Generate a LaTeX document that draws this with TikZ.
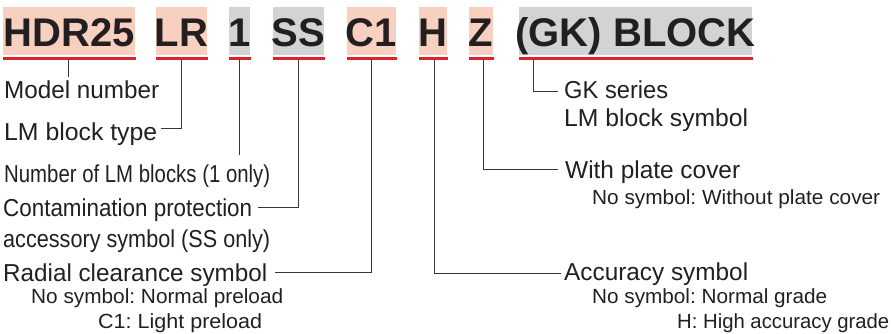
\documentclass[tikz,border=0pt]{standalone}
\usepackage{fontspec}
\setmainfont{Liberation Sans}
\usepackage{graphicx}
\usetikzlibrary{calc}
\definecolor{pinkbg}{RGB}{248,208,192}
\definecolor{graybg}{RGB}{209,211,212}
\definecolor{redbar}{RGB}{220,35,45}
\definecolor{ink}{RGB}{35,31,32}
\definecolor{lineclr}{RGB}{55,55,55}
\newcommand{\fw}[2]{\resizebox{#1}{\height}{#2}}
\frenchspacing
\begin{document}
\begin{tikzpicture}[x=1pt,y=-1pt,
  code/.style={inner sep=0pt, text height=40pt, text depth=8pt,
    font=\fontsize{40}{40}\selectfont\bfseries, text=ink, anchor=base},
  pinkcode/.style={code, fill=pinkbg},
  graycode/.style={code, fill=graybg},
  bar/.style={draw=redbar, line width=3.5pt},
  conn/.style={draw=lineclr, line width=0.9pt},
  mainlbl/.style={inner sep=0pt, anchor=base west, text=ink,
    font=\fontsize{24.5}{28}\selectfont\frenchspacing},
  sublbl/.style={inner sep=0pt, anchor=base west, text=ink,
    font=\fontsize{20.5}{25}\selectfont\frenchspacing},
]
\useasboundingbox (0,0) rectangle (891,334);

% code boxes
\node[pinkcode] (b1) at (69,47)    {\makebox[132pt]{HDR25}};
\node[pinkcode] (b2) at (181.5,47) {\makebox[51pt]{LR}};
\node[graycode] (b3) at (239.5,47) {\makebox[21pt]{1}};
\node[graycode] (b4) at (298.5,47) {\makebox[51pt]{SS}};
\node[pinkcode] (b5) at (371.5,47) {\makebox[49pt]{C1}};
\node[pinkcode] (b6) at (433,47)   {\makebox[28pt]{H}};
\node[pinkcode] (b7) at (481,47)   {\makebox[24pt]{Z}};
\node[graycode] (b8) at (635.5,47) {\makebox[233pt]{(GK) BLOCK}};

% red underlines
\foreach \b in {b1,b2,b3,b4,b5,b6,b7,b8}{
  \draw[bar] ([yshift=-3.25pt]\b.south west) -- ([xshift=1pt,yshift=-3.25pt]\b.south east);
}

% labels left
\node[mainlbl] (l1) at (4,99)     {\fw{155pt}{Model number}};
\node[mainlbl] (l2) at (4,140)    {\fw{153pt}{LM block type}};
\node[mainlbl] (l3) at (4,182)    {\fw{266pt}{Number of LM blocks (1 only)}};
\node[mainlbl] (l4) at (3,216)    {\fw{249pt}{Contamination protection}};
\node[mainlbl] (l4b) at (3,247)   {\fw{267pt}{accessory symbol (SS only)}};
\node[mainlbl] (l5) at (3,281)    {\fw{264pt}{Radial clearance symbol}};
\node[sublbl] (l5a) at (31,303)   {\fw{252pt}{No symbol: Normal preload}};
\node[sublbl] (l5b) at (98,328)   {\fw{164pt}{C1: Light preload}};

% labels right
\node[mainlbl] (l8) at (564,99)    {\fw{104pt}{GK series}};
\node[mainlbl] (l8b) at (564,126)  {\fw{184pt}{LM block symbol}};
\node[mainlbl] (l7) at (565,178)   {\fw{175pt}{With plate cover}};
\node[sublbl] (l7a) at (592,204.5) {\fw{288pt}{No symbol: Without plate cover}};
\node[mainlbl] (l6) at (564,280.5) {\fw{184pt}{Accuracy symbol}};
\node[sublbl] (l6a) at (592,303)   {\fw{235pt}{No symbol: Normal grade}};
\node[sublbl] (l6b) at (677,328)   {\fw{212pt}{H: High accuracy grade}};

% connectors
\coordinate (e1) at ($(b1.south)+(-1,22)$);
\draw[conn] ([xshift=-1pt,yshift=-5pt]b1.south) -- (e1);
\draw[conn] ([yshift=-5pt]b2.south) |- ([xshift=4pt,yshift=12pt]l2.base east);
\coordinate (e3) at ($(b3.south)+(0,100)$);
\draw[conn] ([yshift=-5pt]b3.south) -- (e3);
\draw[conn] ([yshift=-5pt]b4.south) |- ([xshift=6pt,yshift=9pt]l4.base east);
\draw[conn] ([yshift=-5pt]b5.south) |- ([xshift=8pt,yshift=8.5pt]l5.base east);
\draw[conn] ([xshift=1pt,yshift=-5pt]b6.south) |- ([xshift=-3pt,yshift=7.5pt]l6.base west);
\draw[conn] ([xshift=2pt,yshift=-5pt]b7.south) |- ([xshift=-7pt,yshift=9pt]l7.base west);
\draw[conn] ([xshift=15pt,yshift=-5pt]b8.south west) |- ([xshift=-6pt,yshift=8pt]l8.base west);
\end{tikzpicture}
\end{document}
